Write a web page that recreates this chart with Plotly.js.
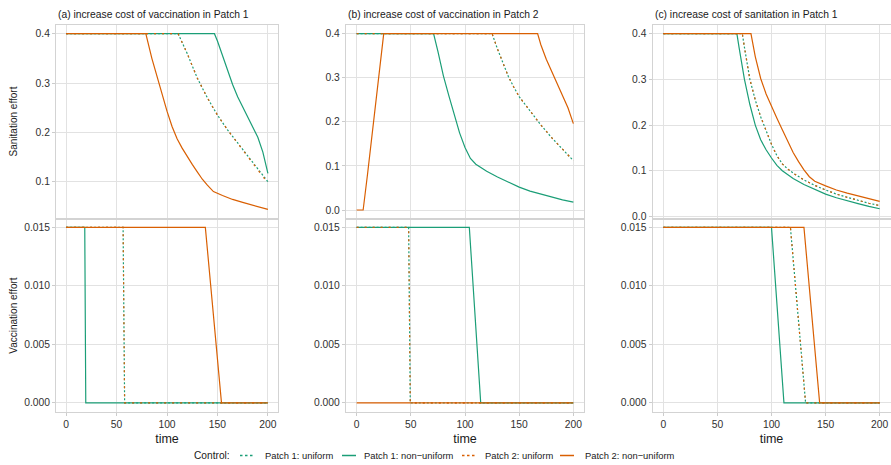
<!DOCTYPE html>
<html>
<head>
<meta charset="utf-8">
<script src="https://cdn.plot.ly/plotly-3.0.1.min.js"></script>
<style>html,body{margin:0;padding:0;background:#fff;}#chart{width:891px;height:465px;}</style>
</head>
<body>
<div id="chart"></div>
<script>
// ---------- data ----------
const seriesNames = ["Patch 1: uniform", "Patch 1: non\u2212uniform", "Patch 2: uniform", "Patch 2: non\u2212uniform"];
const legendTitle = "Control:";
const panelTitles = ["(a) increase cost of vaccination in Patch 1", "(b) increase cost of vaccination in Patch 2", "(c) increase cost of sanitation in Patch 1"];
const xTicks = [0, 50, 100, 150, 200];
const sanTicks = [0, 0.1, 0.2, 0.3, 0.4];
const vacTicks = [0, 0.005, 0.010, 0.015];

// Panel (a) sanitation
const aSanUniT = [0, 111, 120, 130, 140, 150, 160, 170, 180, 190, 200];
const aSanP1Uni = [0.4, 0.4, 0.36, 0.31, 0.27, 0.235, 0.205, 0.178, 0.152, 0.126, 0.1];
const aSanP2Uni = [0.4, 0.4, 0.36, 0.31, 0.27, 0.235, 0.205, 0.178, 0.152, 0.125, 0.097];
const aSanP1NonT = [0, 147, 150, 155, 160, 165, 170, 175, 180, 185, 190, 195, 200];
const aSanP1Non = [0.4, 0.4, 0.385, 0.355, 0.325, 0.297, 0.272, 0.252, 0.232, 0.213, 0.19, 0.16, 0.117];
const aSanP2NonT = [0, 79, 85, 90, 95, 100, 105, 110, 115, 120, 125, 130, 135, 140, 146, 155, 165, 175, 185, 200];
const aSanP2Non = [0.4, 0.4, 0.35, 0.313, 0.275, 0.243, 0.212, 0.187, 0.168, 0.151, 0.135, 0.12, 0.105, 0.093, 0.08, 0.072, 0.064, 0.058, 0.053, 0.044];
// Panel (a) vaccination
const aVacUniT = [0, 56.5, 58, 200];
const aVacP1Uni = [0.015, 0.015, 0, 0];
const aVacP2Uni = [0.015, 0.015, 0, 0];
const aVacP1NonT = [0, 18.5, 19.5, 200];
const aVacP1Non = [0.015, 0.015, 0, 0];
const aVacP2NonT = [0, 138, 154, 200];
const aVacP2Non = [0.015, 0.015, 0, 0];

// Panel (b) sanitation
const bSanUniT = [0, 125, 130, 135, 140, 145, 150, 160, 170, 180, 190, 200];
const bSanP1Uni = [0.4, 0.4, 0.365, 0.332, 0.303, 0.279, 0.257, 0.225, 0.193, 0.164, 0.138, 0.112];
const bSanP2Uni = [0.4, 0.4, 0.365, 0.332, 0.303, 0.279, 0.257, 0.225, 0.193, 0.164, 0.138, 0.112];
const bSanP1NonT = [0, 71, 75, 80, 85, 90, 95, 100, 105, 110, 120, 130, 140, 150, 160, 170, 180, 190, 200];
const bSanP1Non = [0.4, 0.4, 0.36, 0.305, 0.26, 0.215, 0.175, 0.142, 0.117, 0.104, 0.088, 0.075, 0.063, 0.052, 0.043, 0.036, 0.029, 0.023, 0.018];
const bSanP2NonT = [0, 6, 10, 15, 20, 25, 167, 170, 175, 180, 185, 190, 195, 200];
const bSanP2Non = [0, 0, 0.08, 0.185, 0.29, 0.4, 0.4, 0.375, 0.342, 0.315, 0.29, 0.263, 0.232, 0.196];
// Panel (b) vaccination
const bVacUniT = [0, 48, 49.5, 200];
const bVacP1Uni = [0.015, 0.015, 0, 0];
const bVacP2Uni = [0.015, 0.015, 0, 0];
const bVacP1NonT = [0, 104, 114.5, 200];
const bVacP1Non = [0.015, 0.015, 0, 0];
const bVacP2NonT = [0, 200];
const bVacP2Non = [0, 0];

// Panel (c) sanitation
const cSanUniT = [0, 73, 75, 80, 85, 90, 95, 100, 105, 110, 115, 120, 130, 140, 150, 160, 170, 180, 190, 200];
const cSanP1Uni = [0.4, 0.4, 0.37, 0.3, 0.255, 0.218, 0.188, 0.158, 0.133, 0.115, 0.104, 0.095, 0.08, 0.068, 0.058, 0.049, 0.042, 0.035, 0.029, 0.024];
const cSanP2Uni = [0.4, 0.4, 0.37, 0.3, 0.255, 0.218, 0.188, 0.158, 0.133, 0.115, 0.104, 0.095, 0.08, 0.068, 0.058, 0.049, 0.042, 0.035, 0.029, 0.024];
const cSanP1NonT = [0, 68, 70, 75, 80, 85, 90, 95, 100, 105, 110, 120, 130, 140, 150, 160, 170, 180, 190, 200];
const cSanP1Non = [0.4, 0.4, 0.37, 0.3, 0.245, 0.2, 0.168, 0.146, 0.128, 0.112, 0.1, 0.083, 0.07, 0.059, 0.049, 0.041, 0.034, 0.028, 0.022, 0.017];
const cSanP2NonT = [0, 81, 85, 90, 95, 100, 105, 110, 115, 120, 125, 130, 135, 140, 150, 160, 170, 180, 190, 200];
const cSanP2Non = [0.4, 0.4, 0.35, 0.302, 0.268, 0.24, 0.215, 0.19, 0.165, 0.14, 0.12, 0.102, 0.087, 0.077, 0.067, 0.058, 0.051, 0.045, 0.039, 0.033];
// Panel (c) vaccination
const cVacUniT = [0, 117.5, 131.5, 200];
const cVacP1Uni = [0.015, 0.015, 0, 0];
const cVacP2Uni = [0.015, 0.015, 0, 0];
const cVacP1NonT = [0, 100, 111.5, 200];
const cVacP1Non = [0.015, 0.015, 0, 0];
const cVacP2NonT = [0, 130, 144.5, 200];
const cVacP2Non = [0.015, 0.015, 0, 0];

// ---------- styling ----------
const GREEN = "#1B9E77", ORANGE = "#D95F02";
const FONT = "Liberation Sans, Arial, Helvetica, sans-serif";
const W = 891, H = 465;
const xd = (a, b) => [a / W, b / W];
const yd = (top, bot) => [1 - bot / H, 1 - top / H];

const styles = [
  {color: GREEN, dash: "2px,2px"},
  {color: GREEN, dash: "solid"},
  {color: ORANGE, dash: "2px,6px"},
  {color: ORANGE, dash: "solid"}
];
const keyDash = ["2.5px,2.5px", "solid", "2.5px,2.5px", "solid"];

const panels = [
  {san: [[aSanUniT, aSanP1Uni], [aSanP1NonT, aSanP1Non], [aSanUniT, aSanP2Uni], [aSanP2NonT, aSanP2Non]],
   vac: [[aVacUniT, aVacP1Uni], [aVacP1NonT, aVacP1Non], [aVacUniT, aVacP2Uni], [aVacP2NonT, aVacP2Non]]},
  {san: [[bSanUniT, bSanP1Uni], [bSanP1NonT, bSanP1Non], [bSanUniT, bSanP2Uni], [bSanP2NonT, bSanP2Non]],
   vac: [[bVacUniT, bVacP1Uni], [bVacP1NonT, bVacP1Non], [bVacUniT, bVacP2Uni], [bVacP2NonT, bVacP2Non]]},
  {san: [[cSanUniT, cSanP1Uni], [cSanP1NonT, cSanP1Non], [cSanUniT, cSanP2Uni], [cSanP2NonT, cSanP2Non]],
   vac: [[cVacUniT, cVacP1Uni], [cVacP1NonT, cVacP1Non], [cVacUniT, cVacP2Uni], [cVacP2NonT, cVacP2Non]]}
];

const colPx = [[56, 278], [345.8, 584.2], [652.5, 890.5]];
const topPx = [25, 218], botPx = [219.5, 411.7];
const sanRanges = [[0.0264, 0.4176], [-0.0181, 0.4197], [-0.0033, 0.419]];
const vacRange = [-0.00076, 0.01567];

const traces = [];
const layout = {
  width: W, height: H,
  margin: {l: 0, r: 0, t: 0, b: 0},
  paper_bgcolor: "#fff", plot_bgcolor: "#fff",
  font: {family: FONT, color: "#1a1a1a"},
  showlegend: false,
  annotations: [], shapes: []
};

const axBase = {
  showgrid: true, gridcolor: "#E2E2E2", gridwidth: 1,
  showline: true, mirror: true, linecolor: "#D3D3D3", linewidth: 1,
  zeroline: false, ticks: "outside", ticklen: 3, tickcolor: "#CCCCCC",
  tickfont: {size: 10.3, color: "#303030", family: FONT}, fixedrange: true
};

panels.forEach((p, i) => {
  const it = 2 * i + 1, ib = 2 * i + 2;
  const xt = "x" + it, yt = "y" + it, xb = "x" + ib, yb = "y" + ib;
  p.san.forEach((s, k) => {
    traces.push({type: "scatter", mode: "lines", x: s[0], y: s[1], xaxis: xt, yaxis: yt,
      name: seriesNames[k], legendgroup: "g" + k,
      line: {color: styles[k].color, dash: styles[k].dash, width: 1.2}, hoverinfo: "skip"});
  });
  p.vac.forEach((s, k) => {
    traces.push({type: "scatter", mode: "lines", x: s[0], y: s[1], xaxis: xb, yaxis: yb,
      name: seriesNames[k], legendgroup: "g" + k,
      line: {color: styles[k].color, dash: styles[k].dash, width: 1.2}, hoverinfo: "skip"});
  });
  layout["xaxis" + it] = Object.assign({}, axBase, {domain: xd(colPx[i][0], colPx[i][1]), range: [-10, 210],
    anchor: yt, tickvals: xTicks, showticklabels: false, ticks: ""});
  layout["yaxis" + it] = Object.assign({}, axBase, {domain: yd(topPx[0], topPx[1]), range: sanRanges[i],
    anchor: xt, tickvals: sanTicks, tickformat: ".1f"});
  layout["xaxis" + ib] = Object.assign({}, axBase, {domain: xd(colPx[i][0], colPx[i][1]), range: [-10, 210],
    anchor: yb, tickvals: xTicks, title: {text: "time", font: {size: 12.5, color: "#1a1a1a"}, standoff: 5}});
  layout["yaxis" + ib] = Object.assign({}, axBase, {domain: yd(botPx[0], botPx[1]), range: vacRange,
    anchor: xb, tickvals: vacTicks, tickformat: ".3f"});
  layout.annotations.push({text: panelTitles[i], xref: "paper", yref: "paper",
    x: colPx[i][0] / W, y: 1 - 14 / H, xanchor: "left", yanchor: "middle", showarrow: false,
    font: {size: 10.3, color: "#1a1a1a"}});
});
layout.yaxis1.title = {text: "Sanitation effort", font: {size: 10, color: "#1a1a1a"}, standoff: 16};
layout.yaxis2.title = {text: "Vaccination effort", font: {size: 10, color: "#1a1a1a"}, standoff: 4};

// ---------- legend (drawn as keys + labels, laid out like the reference) ----------
const legY = 1 - 455.5 / H;
const keyPx = [[240, 253], [342, 356], [462, 475], [560, 574]];
const labelPx = [263, 362, 483, 582.5];
layout.annotations.push({text: legendTitle, xref: "paper", yref: "paper", x: 191.5 / W, y: legY,
  xanchor: "left", yanchor: "middle", showarrow: false, font: {size: 10.2, color: "#1a1a1a"}});
seriesNames.forEach((n, k) => {
  layout.shapes.push({type: "line", xref: "paper", yref: "paper", x0: keyPx[k][0] / W, x1: keyPx[k][1] / W,
    y0: legY, y1: legY, line: {color: styles[k].color, width: 1.5, dash: keyDash[k]}});
  layout.annotations.push({text: n, xref: "paper", yref: "paper", x: labelPx[k] / W, y: legY,
    xanchor: "left", yanchor: "middle", showarrow: false, font: {size: 9.4, color: "#1a1a1a"}});
});

Plotly.newPlot("chart", traces, layout, {staticPlot: true, displayModeBar: false});
</script>
</body>
</html>
